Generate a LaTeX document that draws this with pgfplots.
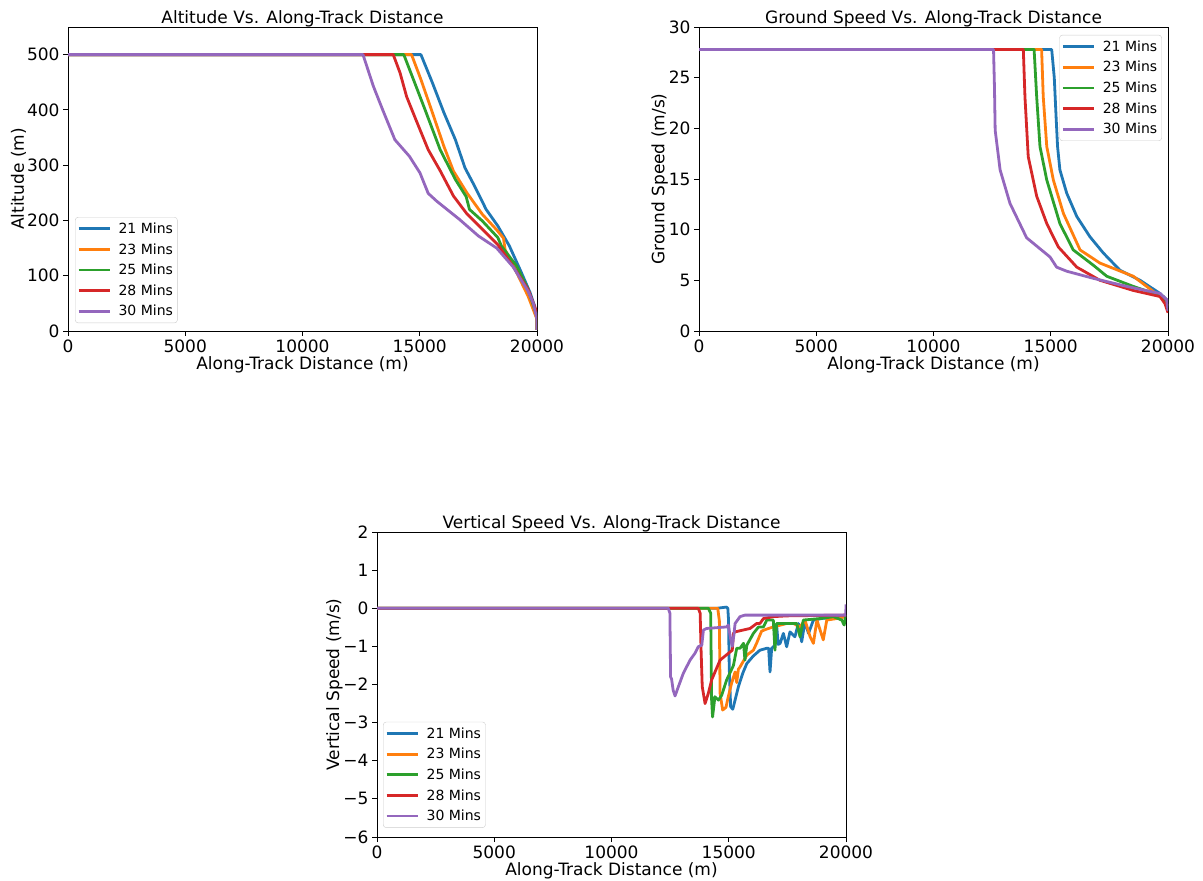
\documentclass[border=0pt]{standalone}
\usepackage{pgfplots}
\pgfplotsset{compat=1.18}
\usepackage{fontspec}
\setmainfont{DejaVu Sans}
\definecolor{c1}{HTML}{1F77B4}
\definecolor{c2}{HTML}{FF7F0E}
\definecolor{c3}{HTML}{2CA02C}
\definecolor{c4}{HTML}{D62728}
\definecolor{c5}{HTML}{9467BD}
\pgfplotsset{
 myaxis/.style={
  scale only axis, width=469bp, height=304bp,
  xmin=0, xmax=20000,
  scaled x ticks=false, scaled y ticks=false,
  xtick={0,5000,10000,15000,20000},
  xticklabels={0,5000,10000,15000,20000},
  tick pos=left, tick align=outside, major tick length=5bp,
  axis line style={line width=0.9bp},
  every tick/.style={black, line width=0.9bp},
  tick label style={font=\fontsize{17bp}{20bp}\selectfont},
  label style={font=\fontsize{17bp}{20bp}\selectfont},
  title style={font=\fontsize{17bp}{20bp}\selectfont, at={(0.5,1)}, anchor=base, yshift=-2bp},
  ylabel shift=-6bp, xlabel shift=-3bp,
  /pgf/number format/assume math mode=true,
  xlabel={Along-Track Distance (m)},
  legend cell align=left,
  legend style={font=\fontsize{14bp}{16bp}\selectfont, draw=black!20, rounded corners=3bp,
    fill=white, fill opacity=0.8, text opacity=1, inner xsep=2bp, inner ysep=3bp,
    column sep=5bp, row sep=3.5bp, nodes={inner sep=2.5bp}},
  legend image code/.code={\draw[#1, line width=2.8bp] (0bp,0bp) -- (31bp,0bp);},
  cycle list={{c1},{c2},{c3},{c4},{c5}},
  every axis plot/.append style={line width=2.8bp, line join=round},
 }
}
\begin{document}
\begin{tikzpicture}
\path[use as bounding box] (0,0) rectangle (1203bp,881bp);
% Altitude
\begin{axis}[myaxis, at={(68bp,550bp)}, anchor=south west,
  ymin=0, ymax=550, ytick={0,100,200,300,400,500},
  ylabel={Altitude (m)},
  title={Altitude Vs. Along-Track Distance},
  legend style={at={(0.015,0.026)}, anchor=south west}]
\addplot coordinates {(0,500) (15050,500) (15540,449) (16030,395) (16520,346) (16930,295) (17340,262) (17830,220) (18330,190) (18820,154) (19310,108) (19700,70) (19900,45) (20000,21) (20000,2)};
\addplot coordinates {(0,500) (14650,500) (15050,455) (15540,395) (16030,334) (16440,289) (17010,250) (17670,211) (18280,183) (18570,168) (18640,147) (18780,135) (19140,105) (19620,63) (20000,21) (20000,2)};
\addplot coordinates {(0,500) (14320,500) (14730,455) (15220,401) (15870,328) (16520,274) (16980,243) (17120,220) (17670,199) (18330,169) (18480,154) (19140,117) (19620,75) (20000,27) (20000,2)};
\addplot coordinates {(0,500) (13870,500) (14160,467) (14440,424) (14810,385) (15360,328) (15870,290) (16440,244) (17010,212) (17670,184) (18330,156) (18980,117) (19620,75) (20000,33) (20000,2)};
\addplot coordinates {(0,500) (12580,500) (13020,443) (13420,400) (13940,346) (14560,316) (15010,286) (15360,249) (15720,235) (16690,202) (17500,172) (18280,150) (18980,116) (19620,72) (19840,50) (20000,21) (20000,2)};
\legend{21 Mins,23 Mins,25 Mins,28 Mins,30 Mins}
\end{axis}
% Ground speed
\begin{axis}[myaxis, at={(699bp,550bp)}, anchor=south west,
  ymin=0, ymax=30, ytick={0,5,10,15,20,25,30},
  ylabel={Ground Speed (m/s)},
  title={Ground Speed Vs. Along-Track Distance},
  legend style={at={(0.987,0.974)}, anchor=north east}]
\addplot coordinates {(0,27.78) (15040,27.78) (15150,25) (15230,21) (15290,18.2) (15390,15.9) (15680,13.6) (16110,11.3) (16670,9.3) (17240,7.7) (17950,6.0) (18810,5.0) (19660,3.7) (19940,3.1) (20000,2.3)};
\addplot coordinates {(0,27.78) (14610,27.78) (14680,23.1) (14830,18.2) (15110,14.9) (15540,11.6) (16250,8.0) (17100,6.7) (18520,5.4) (19660,3.4) (20000,2.5)};
\addplot coordinates {(0,27.78) (14290,27.78) (14400,23.1) (14540,18.2) (14830,14.9) (15390,10.6) (15960,8.0) (16810,6.5) (17390,5.4) (18520,4.4) (19800,3.4) (20000,2.3)};
\addplot coordinates {(0,27.78) (13830,27.78) (13900,23.1) (14040,17.2) (14400,13.3) (14830,10.6) (15320,8.3) (16110,6.3) (17100,5.0) (18520,4.0) (19660,3.4) (19870,2.7) (20000,1.8)};
\addplot coordinates {(0,27.78) (12560,27.78) (12600,24) (12630,19.8) (12840,15.9) (13260,12.6) (13970,9.2) (14970,7.3) (15250,6.3) (15680,5.9) (16810,5.2) (18240,4.4) (19660,3.7) (19940,3.1) (20000,2.0)};
\legend{21 Mins,23 Mins,25 Mins,28 Mins,30 Mins}
\end{axis}
% Vertical speed
\begin{axis}[myaxis, at={(377bp,44bp)}, anchor=south west, height=305bp,
  ymin=-6, ymax=2, ytick={-6,-5,-4,-3,-2,-1,0,1,2},
  yticklabels={−6,−5,−4,−3,−2,−1,0,1,2},
  ylabel={Vertical Speed (m/s)},
  title={Vertical Speed Vs. Along-Track Distance},
  legend style={at={(0.013,0.03)}, anchor=south west}]
\addplot coordinates {(0,0) (14500,0) (14900,0.03) (14960,0) (14990,-0.3) (15020,-1.54) (15080,-2.58) (15170,-2.65) (15270,-2.41) (15410,-2.06) (15600,-1.7) (15770,-1.45) (16050,-1.25) (16330,-1.1) (16620,-1.05) (16700,-1.05) (16760,-1.67) (16830,-1.05) (16970,-0.97) (17040,-0.44) (17110,-0.95) (17190,-0.92) (17330,-0.66) (17470,-1.01) (17610,-0.62) (17820,-0.75) (17970,-0.4) (18110,-0.88) (18250,-0.35) (18400,-0.66) (18610,-0.31) (19050,-0.26) (19460,-0.27) (19890,-0.22) (20000,-0.18)};
\addplot coordinates {(0,0) (14530,0) (14600,-0.33) (14630,-2.23) (14740,-2.67) (14880,-2.6) (14980,-2.32) (15120,-1.97) (15270,-1.67) (15340,-1.95) (15410,-1.6) (15480,-1.54) (15770,-1.23) (16050,-1.1) (16200,-0.9) (16400,-0.6) (16600,-0.55) (16900,-0.49) (17470,-0.4) (17760,-0.4) (18040,-0.49) (18250,-0.31) (18470,-0.75) (18610,-0.92) (18760,-0.31) (19030,-0.83) (19180,-0.31) (19600,-0.27) (20000,-0.22)};
\addplot coordinates {(0,0) (14130,0) (14230,-0.13) (14270,-2.41) (14310,-2.85) (14410,-2.32) (14560,-2.41) (14700,-2.28) (14910,-1.88) (15200,-1.5) (15340,-1.05) (15480,-1.05) (15630,-0.92) (15690,-1.36) (15770,-0.97) (16050,-0.66) (16270,-0.49) (16480,-0.49) (16620,-0.31) (16900,-0.31) (16970,-1.1) (17040,-0.4) (17610,-0.4) (17900,-0.4) (18040,-0.75) (18180,-0.31) (18900,-0.27) (19460,-0.22) (19820,-0.31) (19920,-0.44) (20000,-0.18)};
\addplot coordinates {(0,0) (13700,0) (13780,-0.13) (13820,-1.1) (13870,-2.06) (13990,-2.5) (14130,-2.23) (14270,-1.88) (14630,-1.36) (15050,-1.15) (15150,-1.1) (15200,-0.66) (15270,-0.62) (15910,-0.53) (16190,-0.4) (16330,-0.4) (16480,-0.27) (16900,-0.22) (17470,-0.2) (20000,-0.18)};
\addplot coordinates {(0,0) (12420,0) (12490,-0.13) (12520,-1.8) (12560,-1.85) (12630,-2.15) (12710,-2.3) (12850,-2.06) (13060,-1.71) (13350,-1.36) (13560,-1.18) (13700,-1.01) (13850,-0.97) (13920,-0.57) (14060,-0.53) (14910,-0.49) (14980,-0.44) (15080,-0.8) (15150,-1.0) (15220,-0.7) (15270,-0.4) (15480,-0.22) (15690,-0.18) (19990,-0.18) (20000,0.1)};
\legend{21 Mins,23 Mins,25 Mins,28 Mins,30 Mins}
\end{axis}
\end{tikzpicture}
\end{document}
